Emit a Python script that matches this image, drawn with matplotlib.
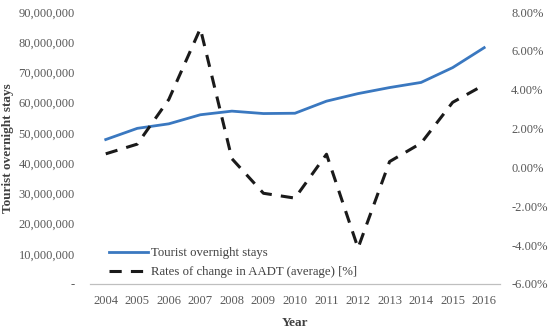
import matplotlib
matplotlib.use("Agg")
import matplotlib.pyplot as plt
from matplotlib.ticker import FuncFormatter, MultipleLocator

plt.rcParams['font.family'] = ['Liberation Serif', 'DejaVu Serif']

years = [str(y) for y in range(2004, 2017)]
overnight_stays = [47.8e6, 51.5e6, 53.0e6, 56.0e6, 57.2e6, 56.4e6, 56.5e6,
                   60.5e6, 63.0e6, 65.0e6, 66.7e6, 71.6e6, 78.2e6]
aadt_change = [0.70, 1.20, 3.50, 7.15, 0.45, -1.33, -1.58,
               0.68, -4.15, 0.30, 1.25, 3.35, 4.25]

grey = "#595959"
fig = plt.figure(figsize=(5.5, 3.29), dpi=100)
ax = fig.add_axes([0.1636, 0.1368, 0.7454, 0.8267])
ax2 = ax.twinx()

x = range(len(years))
l1, = ax.plot(x, overnight_stays, color="#3A78C0", lw=2.0,
              label="Tourist overnight stays")
l2, = ax2.plot(x, aadt_change, color="#1a1a1a", lw=2.2, dashes=(4, 3),
               label="Rates of change in AADT (average) [%]")

ax.set_xlim(-0.5, len(years) - 0.5)
ax.set_ylim(0, 90e6)
ax.yaxis.set_major_locator(MultipleLocator(10e6))
ax.yaxis.set_major_formatter(FuncFormatter(lambda v, p: "-" if v == 0 else f"{int(v):,}"))
ax2.set_ylim(-6, 8)
ax2.yaxis.set_major_locator(MultipleLocator(2))
ax2.yaxis.set_major_formatter(FuncFormatter(lambda v, p: f"{v:.2f}%"))

ax.set_xticks(list(x))
ax.set_xticklabels(years)

for a in (ax, ax2):
    for s in ("top", "left", "right"):
        a.spines[s].set_visible(False)
    a.spines["bottom"].set_color("#bfbfbf")
    a.tick_params(length=0, colors=grey, labelsize=9)
ax.tick_params(axis="y", pad=11)
ax2.tick_params(axis="y", pad=8)
ax.tick_params(axis="x", pad=8)

ax.set_xlabel("Year", fontweight="bold", fontsize=9.5, color="#404040")
ax.set_ylabel("Tourist overnight stays", fontweight="bold", fontsize=9.5, color="#404040")
ax.yaxis.set_label_coords(-0.185, 0.5)
ax.xaxis.set_label_coords(0.5, -0.12)

ax.legend([l1, l2], [l1.get_label(), l2.get_label()], loc="lower left",
          bbox_to_anchor=(0.025, -0.012), frameon=False, fontsize=9.2,
          handlelength=3.0, handletextpad=0.3, labelspacing=0.55,
          labelcolor="#404040", borderaxespad=0.3)

fig.savefig("out.png", dpi=100)
